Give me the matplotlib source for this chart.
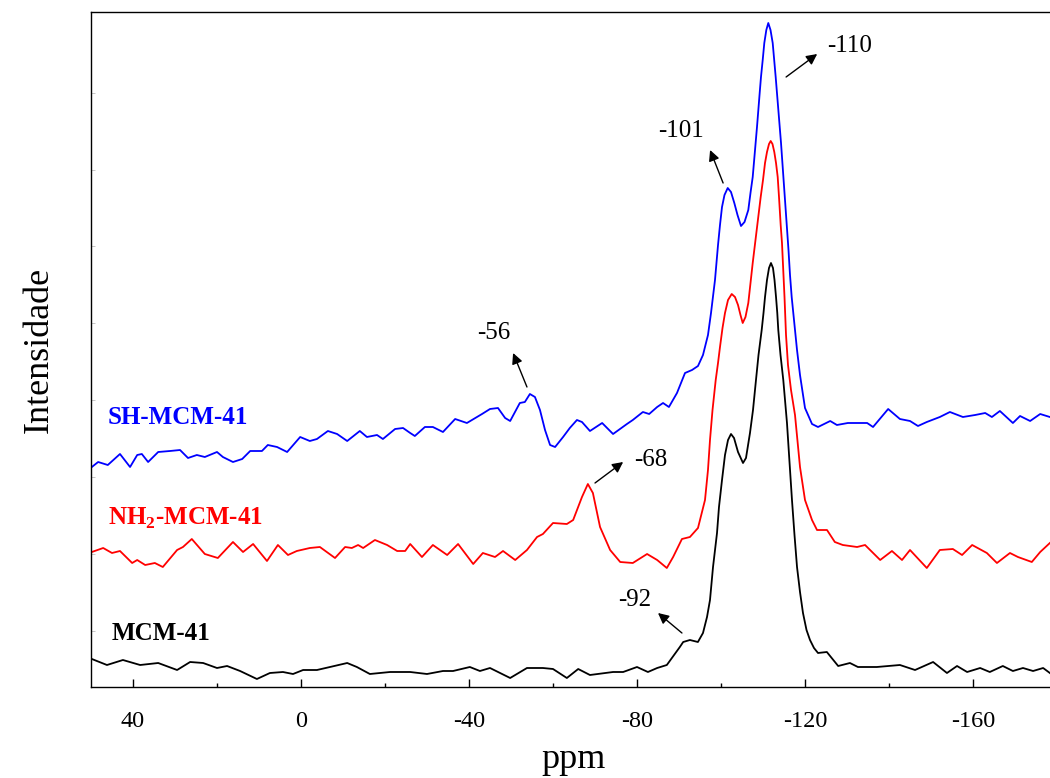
import matplotlib
matplotlib.use("Agg")
import matplotlib.pyplot as plt

plt.rcParams['font.family'] = ['Liberation Serif', 'DejaVu Serif']
plt.rcParams['mathtext.fontset'] = 'custom'
plt.rcParams['mathtext.rm'] = 'Liberation Serif'
plt.rcParams['mathtext.bf'] = 'Liberation Serif:bold'
plt.rcParams['axes.unicode_minus'] = False

# MCM-41 (black)
ppm_mcm = [49.8, 46.2, 42.4, 38.3, 34.0, 29.5, 26.4, 23.3, 20.0, 17.6, 14.5, 10.5, 7.4, 4.3, 1.9,
           -0.5, -3.8, -6.9, -11.0, -13.3, -16.4, -21.2, -26.0, -30.0, -33.8, -36.2, -40.2, -42.6,
           -45.0, -49.8, -53.8, -57.6, -60.0, -63.3, -66.0, -68.8, -74.3, -76.7, -80.0, -82.6,
           -84.8, -87.1, -90.2, -91.0, -92.6, -94.5, -95.71, -96.67, -97.38, -98.10, -99.05,
           -99.52, -100.24, -100.95, -101.67, -102.38, -103.10, -104.05, -105.24, -105.95, -106.90,
           -107.62, -108.33, -108.93, -109.69, -110.12, -110.48, -110.95, -111.43, -111.90, -112.38,
           -112.74, -113.10, -113.40, -113.64, -114.17, -114.83, -115.24, -115.71, -116.31, -116.90,
           -117.50, -118.10, -118.81, -119.52, -120.36, -121.19, -122.14, -123.10, -125.2, -127.9,
           -130.7, -132.6, -137.1, -142.6, -146.2, -150.5, -153.8, -156.2, -158.6, -161.7, -164.0,
           -167.1, -169.5, -171.9, -174.3, -176.7, -178.3]
int_mcm = [28, 22, 27, 22, 24, 17, 25, 24, 19, 21, 16, 8, 14, 15, 13,
           17, 17, 20, 24, 20, 13, 15, 15, 13, 16, 16, 20, 16,
           19, 9, 19, 19, 18, 9, 18, 12, 15, 15, 20, 15,
           19, 22, 40, 45, 47, 45, 54, 70, 87, 120, 154,
           180, 207, 232, 247, 253, 249, 235, 224, 229, 254,
           277, 307, 332, 357, 374, 390, 407, 419, 424, 419,
           407, 390, 374, 357, 332, 307, 287, 264, 225, 187,
           152, 120, 95, 74, 57, 47, 39, 34, 35, 21,
           24, 20, 20, 22, 17, 25, 14, 21, 15, 19, 15,
           21, 16, 19, 16, 19, 14]

# NH2-MCM-41 (red)
ppm_nh2 = [49.8, 47.1, 45.0, 43.1, 40.2, 39.0, 37.1, 34.8, 32.9, 29.5, 28.1, 26.0, 22.9, 19.8,
           16.2, 13.8, 11.4, 8.1, 5.5, 3.1, 1.0, -2.1, -4.5, -8.1, -10.5, -12.1, -13.6, -14.8,
           -17.6, -20.5, -22.9, -24.8, -26.0, -28.8, -31.4, -34.8, -37.4, -41.0, -43.3, -46.2,
           -48.1, -51.0, -53.8, -56.2, -57.6, -60.0, -63.3, -64.8, -66.9, -68.3, -69.5, -71.2,
           -73.6, -76.0, -79.0, -82.4, -84.8, -87.1, -88.6, -90.7, -92.6, -94.52, -95.0, -96.19,
           -96.90, -97.38, -97.98, -98.74, -99.29, -99.76, -100.36, -100.95, -101.67, -102.55,
           -103.33, -104.05, -104.64, -105.17, -105.83, -106.50, -107.02, -107.55, -108.02,
           -108.50, -108.98, -109.45, -110.0, -110.48, -110.95, -111.43, -111.83, -112.26, -112.69,
           -113.10, -113.50, -113.81, -114.21, -114.52, -114.83, -115.12, -115.48, -115.95,
           -116.67, -117.62, -118.81, -120.0, -121.67, -122.86, -125.24,
           -127.1, -129.0, -132.4, -134.3, -137.9, -140.7, -143.1, -145.0, -149.0, -152.1, -155.2,
           -157.4, -159.8, -163.3, -165.7, -168.8, -170.7, -174.0, -176.0, -178.3]
int_nh2 = [135, 139, 134, 136, 124, 127, 122, 124, 120, 137, 140, 148, 133, 129,
           145, 135, 143, 126, 142, 132, 136, 139, 140, 129, 140, 139, 142, 139,
           147, 142, 136, 136, 143, 130, 142, 132, 143, 123, 134, 130,
           136, 127, 137, 150, 153, 164, 163, 167, 190, 203, 194, 160,
           137, 125, 124, 133, 127, 119, 130, 148, 150, 159, 167, 187,
           217, 247, 277, 307, 324, 340, 359, 374, 387, 393,
           390, 382, 372, 364, 370, 384, 404, 424, 440,
           457, 474, 490, 507, 524, 535, 543, 546, 543, 535,
           524, 510, 490, 462, 444, 417, 390, 352, 322,
           297, 272, 220, 187, 167, 157, 157,
           145, 142, 140, 142, 127, 136, 127, 137, 119, 137, 138,
           132, 142, 134, 124, 134, 130, 125, 135, 144]

# SH-MCM-41 (blue)
ppm_sh = [49.8, 48.3, 46.0, 43.1, 40.7, 39.0, 37.9, 36.4, 34.0, 31.2, 28.8, 26.9, 24.8, 22.9,
          20.0, 18.6, 16.2, 14.0, 12.1, 9.3, 7.9, 5.7, 3.3, 0.2, -2.1, -3.8, -6.4, -8.6, -11.0,
          -14.0, -15.7, -18.1, -19.5, -22.4, -24.3, -26.0, -27.1, -29.5, -31.4, -33.8, -36.7,
          -39.5, -43.1, -45.0, -46.9, -48.6, -49.8, -52.1, -53.3, -54.5, -55.7, -56.9, -58.1,
          -59.3, -60.5, -62.4, -64.0, -65.7, -66.9, -68.8, -71.7, -74.3, -77.6, -79.0, -81.4,
          -82.9, -84.8, -86.2, -87.6, -89.52, -91.43, -93.10, -94.52, -95.71, -96.90, -97.62,
          -98.57, -99.29, -99.76, -100.24, -100.83, -101.60, -102.38, -103.17, -103.93, -104.76,
          -105.60, -106.50, -107.02, -107.55, -107.90, -108.26, -108.57, -108.88, -109.21,
          -109.52, -109.93, -110.31, -110.79, -111.26, -111.79, -112.31, -112.67, -113.02,
          -113.33, -113.64, -113.98, -114.29, -114.57, -114.83, -115.12, -115.40, -115.71,
          -116.07, -116.43, -116.83, -117.62, -118.10, -118.81, -119.52, -120.0, -121.67,
          -123.1, -126.0, -127.6, -130.2, -132.6, -134.8,
          -136.2, -139.8, -142.6, -145.0, -146.9, -149.0, -152.1, -154.5, -157.6, -160.5, -162.9,
          -164.5, -166.4, -169.5, -171.2, -173.6, -176.0, -178.3]
int_sh = [220, 225, 222, 233, 220, 232, 233, 225, 235, 236, 237, 229, 232, 230,
          235, 230, 225, 228, 236, 236, 242, 240, 235, 250, 246, 248, 256, 253, 246,
          256, 250, 252, 248, 258, 259, 254, 251, 260, 260, 255, 268,
          264, 273, 278, 279, 269, 266, 284, 285, 293, 290, 277, 257,
          242, 240, 250, 259, 267, 265, 256, 264, 253, 263, 267, 275,
          273, 280, 284, 280, 294, 314, 317, 321, 332, 352, 374,
          407, 442, 462, 480, 492, 499, 495, 484, 472, 461,
          465, 477, 494, 510, 527, 544, 560, 577, 594,
          610, 627, 644, 657, 664, 657, 644, 627, 610,
          594, 577, 560, 544, 527, 510, 494, 477, 457,
          437, 412, 390, 357, 337, 312, 292, 279, 263,
          260, 266, 262, 264, 264, 264,
          260, 278, 268, 266, 261, 265, 270, 275, 270, 272, 274,
          270, 276, 264, 271, 266, 273, 270]

# peak annotations: label, text position, arrow tail (on curve), arrow head
ann_labels = ['-110', '-101', '-56', '-68', '-92']
ann_text_xy = [(-130.5, 641), (-90.5, 556), (-46.0, 354), (-83.3, 227), (-79.5, 87)]
ann_tail_xy = [(-115.5, 610), (-100.5, 504), (-53.8, 300), (-70.0, 204), (-90.7, 54)]
ann_head_xy = [(-122.9, 633), (-97.4, 537), (-50.5, 334), (-76.7, 225), (-85.0, 74)]

series_names = ['MCM-41', r'NH$_\mathbf{2}$-MCM-41', 'SH-MCM-41']
series_colors = ['black', 'red', 'blue']
name_xy = [(45.0, 54), (46.0, 169), (46.0, 269)]

fig = plt.figure(figsize=(10.5, 7.78), dpi=100)
ax = fig.add_axes([91 / 1050, 91 / 778, 966 / 1050, 675 / 778])

ax.plot(ppm_mcm, int_mcm, color='black', lw=1.3)
ax.plot(ppm_nh2, int_nh2, color='red', lw=1.3)
ax.plot(ppm_sh, int_sh, color='blue', lw=1.3)

for name, col, (x, y) in zip(series_names, series_colors, name_xy):
    ax.text(x, y, name, color=col, fontsize=18, fontweight='bold', ha='left', va='center')

for lab, txy, tail, head in zip(ann_labels, ann_text_xy, ann_tail_xy, ann_head_xy):
    ax.annotate('', xy=head, xytext=tail,
                arrowprops=dict(arrowstyle='-|>', color='black', lw=1.0,
                                mutation_scale=16, shrinkA=0, shrinkB=0))
    ax.text(txy[0], txy[1], lab, fontsize=18, ha='center', va='center')

ax.set_xlim(50, -180)
ax.set_ylim(0, 675)
ax.set_xticks([40, 0, -40, -80, -120, -160])
ax.set_xticks([20, -20, -60, -100, -140], minor=True)
ax.set_yticks([56, 133, 210, 287, 364, 441, 517, 594])
ax.set_yticklabels([])
ax.tick_params(axis='x', which='major', direction='in', length=6, width=1, labelsize=17.5, pad=17)
ax.tick_params(axis='x', which='minor', direction='in', length=3, width=1)
ax.tick_params(axis='y', direction='in', length=3, width=0.6, color='#bbbbbb')
ax.spines['right'].set_visible(False)
for s in ['top', 'left', 'bottom']:
    ax.spines[s].set_linewidth(1.0)

ax.set_xlabel('ppm', fontsize=26, labelpad=8)
ax.set_ylabel('Intensidade', fontsize=26, labelpad=22)

fig.savefig('out.png', dpi=100)
